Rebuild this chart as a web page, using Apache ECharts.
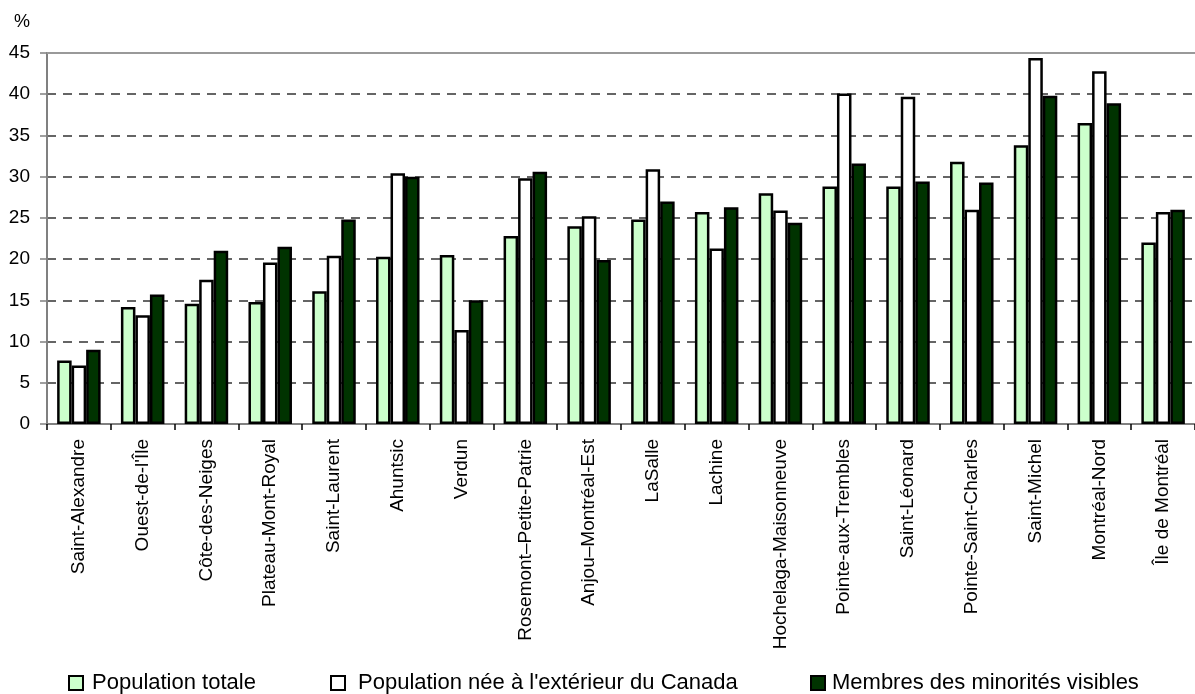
<!DOCTYPE html>
<html>
<head>
<meta charset="utf-8">
<script src="https://cdn.jsdelivr.net/npm/echarts@6/dist/echarts.min.js"></script>
<style>
  html, body { margin: 0; padding: 0; background: #fff; }
  #chart { width: 1195px; height: 694px; }
</style>
</head>
<body>
<div id="chart"></div>
<script>
// Quartiers de l'île de Montréal
const categories = [
  'Saint-Alexandre', "Ouest-de-l'Île", 'Côte-des-Neiges', 'Plateau-Mont-Royal',
  'Saint-Laurent', 'Ahuntsic', 'Verdun', 'Rosemont–Petite-Patrie',
  'Anjou–Montréal-Est', 'LaSalle', 'Lachine', 'Hochelaga-Maisonneuve',
  'Pointe-aux-Trembles', 'Saint-Léonard', 'Pointe-Saint-Charles',
  'Saint-Michel', 'Montréal-Nord', 'Île de Montréal'
];

const seriesNames = [
  'Population totale',
  "Population née à l'extérieur du Canada",
  'Membres des minorités visibles'
];

// Pourcentages
const populationTotale = [7.7, 14.2, 14.6, 14.8, 16.1, 20.3, 20.5, 22.8, 24.0, 24.8, 25.7, 28.0, 28.8, 28.8, 31.8, 33.8, 36.5, 22.0];
const populationNeeExterieur = [7.1, 13.2, 17.5, 19.6, 20.4, 30.4, 11.4, 29.8, 25.2, 30.9, 21.3, 25.9, 40.1, 39.7, 26.0, 44.4, 42.8, 25.7];
const minoritesVisibles = [9.0, 15.7, 21.0, 21.5, 24.8, 30.0, 15.0, 30.6, 19.9, 27.0, 26.3, 24.4, 31.6, 29.4, 29.3, 39.8, 38.9, 26.0];

const yTicks = { min: 0, max: 45, interval: 5 };

const fillColors = ['#CCFFCC', '#FFFFFF', '#003300'];
const values = [populationTotale, populationNeeExterieur, minoritesVisibles];

const chart = echarts.init(document.getElementById('chart'), null, { renderer: 'canvas' });

const font = 'Arial, "Liberation Sans", sans-serif';

// légende : une entrée par bloc, espacées comme dans la mise en page
const legendLefts = [68, 330, 810];
const legendTextPad = [4, 8, 2];

chart.setOption({
  animation: false,
  backgroundColor: '#ffffff',
  textStyle: { fontFamily: font, color: '#000' },
  grid: { left: 47, right: 0, top: 53, bottom: 270, containLabel: false },
  legend: seriesNames.map((name, i) => ({
    data: [name],
    left: legendLefts[i],
    top: 672,
    padding: 0,
    icon: 'rect',
    itemWidth: 14,
    itemHeight: 14,
    itemGap: 0,
    itemStyle: { borderColor: '#000', borderWidth: 2 },
    textStyle: { fontFamily: font, fontSize: 22, color: '#000', padding: [0, 0, 0, legendTextPad[i]] }
  })),
  xAxis: [
    {
      type: 'category',
      data: categories,
      boundaryGap: true,
      axisLine: { lineStyle: { color: '#808080', width: 2 } },
      axisTick: { show: true, length: 6, lineStyle: { color: '#000', width: 1.5 } },
      axisLabel: {
        rotate: 90,
        interval: 0,
        margin: 15,
        fontSize: 19,
        fontFamily: font,
        color: '#000'
      }
    },
    {
      type: 'category',
      data: categories,
      position: 'top',
      axisLine: { show: true, lineStyle: { color: '#999999', width: 2 } },
      axisTick: { show: false },
      axisLabel: { show: false }
    }
  ],
  yAxis: {
    type: 'value',
    min: yTicks.min,
    max: yTicks.max,
    interval: yTicks.interval,
    name: '%',
    nameLocation: 'end',
    nameGap: 22,
    nameTextStyle: { fontFamily: font, fontSize: 18, color: '#000', align: 'right', padding: [0, 17, 0, 0] },
    axisLine: { show: true, lineStyle: { color: '#808080', width: 2 } },
    axisTick: { show: true, length: 7, lineStyle: { color: '#808080', width: 1.5 } },
    axisLabel: { fontSize: 19, fontFamily: font, color: '#000', margin: 17 },
    splitLine: { show: true, lineStyle: { color: '#333', width: 1.5, type: [9, 7] } }
  },
  series: seriesNames.map((name, i) => ({
    name: name,
    type: 'bar',
    data: values[i],
    barWidth: 14.5,
    barGap: '0%',
    itemStyle: { color: fillColors[i], borderColor: '#000', borderWidth: 2.5 }
  }))
});
</script>
</body>
</html>
